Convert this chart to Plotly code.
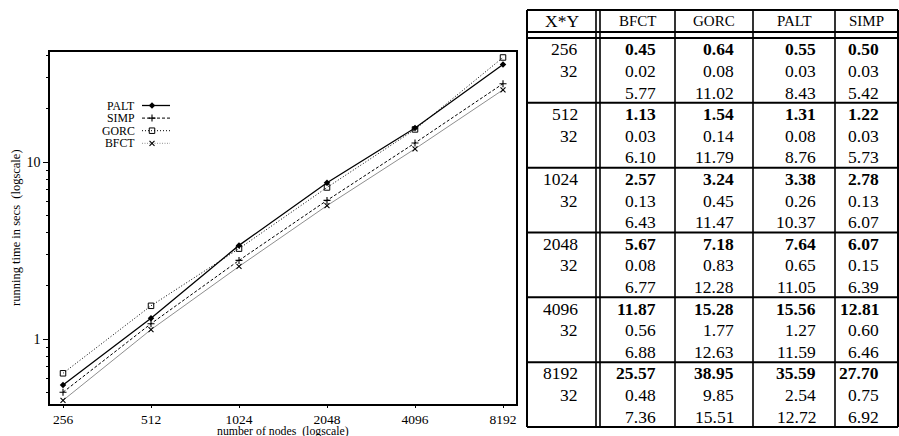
import math
import plotly.graph_objects as go

W, H = 899, 436

# ---------------- data ----------------
sizes = [256, 512, 1024, 2048, 4096, 8192]
procs = [32, 32, 32, 32, 32, 32]
algos = ["BFCT", "GORC", "PALT", "SIMP"]

bfct_mean = [0.45, 1.13, 2.57, 5.67, 11.87, 25.57]
bfct_sd = [0.02, 0.03, 0.13, 0.08, 0.56, 0.48]
bfct_third = [5.77, 6.10, 6.43, 6.77, 6.88, 7.36]

gorc_mean = [0.64, 1.54, 3.24, 7.18, 15.28, 38.95]
gorc_sd = [0.08, 0.14, 0.45, 0.83, 1.77, 9.85]
gorc_third = [11.02, 11.79, 11.47, 12.28, 12.63, 15.51]

palt_mean = [0.55, 1.31, 3.38, 7.64, 15.56, 35.59]
palt_sd = [0.03, 0.08, 0.26, 0.65, 1.27, 2.54]
palt_third = [8.43, 8.76, 10.37, 11.05, 11.59, 12.72]

simp_mean = [0.50, 1.22, 2.78, 6.07, 12.81, 27.70]
simp_sd = [0.03, 0.03, 0.13, 0.15, 0.60, 0.75]
simp_third = [5.42, 5.73, 6.07, 6.39, 6.46, 6.92]

y_major = [1, 10]
y_minor = [0.5, 0.6, 0.7, 0.8, 0.9, 2, 3, 4, 5, 6, 7, 8, 9, 20, 30, 40]

FONT = "Liberation Serif, Times New Roman, serif"


def px(x):
    return x / W


def py(y):
    return 1 - y / H


# ---------------- chart ----------------
L, R, T, B = 50, 516, 52, 404
styles = {
    "PALT": dict(line=dict(color="black", width=1.3),
                 marker=dict(symbol="diamond", size=5, color="black")),
    "SIMP": dict(line=dict(color="black", width=1, dash="3px,2px"),
                 marker=dict(symbol="cross-thin", size=5, color="black",
                             line=dict(color="black", width=1.1))),
    "GORC": dict(line=dict(color="black", width=1, dash="1px,2px"),
                 marker=dict(symbol="square-open", size=5.5, color="black",
                             line=dict(color="black", width=1))),
    "BFCT": dict(line=dict(color="#8f8f8f", width=1),
                 marker=dict(symbol="x-thin", size=5, color="black",
                             line=dict(color="black", width=1.1))),
}
series = {"PALT": palt_mean, "SIMP": simp_mean, "GORC": gorc_mean, "BFCT": bfct_mean}

fig = go.Figure()
for name in ["BFCT", "GORC", "SIMP", "PALT"]:
    fig.add_trace(go.Scatter(x=sizes, y=series[name], mode="lines+markers",
                             name=name, showlegend=False,
                             xaxis="x", yaxis="y", **styles[name]))

# custom legend (text left of sample) drawn on a pixel-space overlay axis
leg_names = ["PALT", "SIMP", "GORC", "BFCT"]
leg_line = {"BFCT": dict(color="#8f8f8f", width=1, dash="1px,1.5px")}
annotations = []
for i, name in enumerate(leg_names):
    yy = 105.5 + i * 12.6
    annotations.append(dict(x=px(137), y=py(yy), xref="paper", yref="paper",
                            text=name, showarrow=False, xanchor="right",
                            yanchor="middle",
                            font=dict(family=FONT, size=11.8, color="black")))
    fig.add_trace(go.Scatter(x=[142, 170], y=[yy, yy], mode="lines",
                             line=leg_line.get(name, styles[name]["line"]),
                             showlegend=False,
                             hoverinfo="skip", xaxis="x2", yaxis="y2"))
    fig.add_trace(go.Scatter(x=[152], y=[yy], mode="markers",
                             marker=styles[name]["marker"], showlegend=False,
                             hoverinfo="skip", xaxis="x2", yaxis="y2"))

lg2 = math.log10(2)
x_range = [math.log10(sizes[0]) - 13 / 88 * lg2, math.log10(sizes[-1]) + 13 / 88 * lg2]
y_range = [-(B - 339) / 177, 1 + (162 - T) / 177]

# axis titles
annotations.append(dict(x=px(283), y=py(430.5), xref="paper", yref="paper",
                        text="number of nodes  (logscale)", showarrow=False,
                        xanchor="center", yanchor="middle",
                        font=dict(family=FONT, size=11.8, color="black")))
annotations.append(dict(x=px(16), y=py(228), xref="paper", yref="paper",
                        text="running time in secs  (logscale)", showarrow=False,
                        textangle=-90, xanchor="center", yanchor="middle",
                        font=dict(family=FONT, size=12.5, color="black")))

# ---------------- table ----------------
shapes = []
TL, TR, TT, TB = 527, 898, 10, 427
HEAD_B, BODY_T = 32, 38
GROUP_H = (TB - BODY_T) / len(sizes)
ROW_H = GROUP_H / 3
col_lines = [596, 600, 675, 753, 835]
col_bounds = [(TL, 596), (600, 675), (675, 753), (753, 835), (835, TR)]


def hline(y, x0=TL, x1=TR, w=1.6):
    shapes.append(dict(type="line", xref="paper", yref="paper",
                       x0=px(x0), x1=px(x1), y0=py(y), y1=py(y),
                       line=dict(color="black", width=w)))


def vline(x, y0=TT, y1=TB, w=1.6):
    shapes.append(dict(type="line", xref="paper", yref="paper",
                       x0=px(x), x1=px(x), y0=py(y0), y1=py(y1),
                       line=dict(color="black", width=w)))


hline(TT, w=2)
hline(HEAD_B, w=2)
hline(BODY_T, w=2)
for g in range(1, len(sizes)):
    hline(BODY_T + g * GROUP_H, w=2)
hline(TB, w=2)
vline(TL, w=2)
vline(TR, w=2)
for x in col_lines:
    vline(x, w=1.6)


def cell(text, col, yc, bold=False, header=False, size=17.5):
    x0, x1 = col_bounds[col]
    if header:
        xx, anchor = (x0 + x1) / 2, "center"
    else:
        xx, anchor = x1 - 16 if col == 0 else x1 - 17, "right"
    t = f"<b>{text}</b>" if bold else text
    annotations.append(dict(x=px(xx), y=py(yc), xref="paper", yref="paper",
                            text=t, showarrow=False, xanchor=anchor,
                            yanchor="middle",
                            font=dict(family=FONT, size=size, color="black")))


hy = (TT + HEAD_B) / 2 + 0.5
cell("X*Y", 0, hy, header=True, size=17.5)
for j, a in enumerate(algos):
    cell(a, j + 1, hy, header=True, size=15)

cols = [(bfct_mean, bfct_sd, bfct_third), (gorc_mean, gorc_sd, gorc_third),
        (palt_mean, palt_sd, palt_third), (simp_mean, simp_sd, simp_third)]
for g, n in enumerate(sizes):
    top = BODY_T + g * GROUP_H
    r0 = top + ROW_H / 2 + 0.5
    cell(str(n), 0, r0)
    cell(str(procs[g]), 0, r0 + ROW_H)
    for j, (m, s, t) in enumerate(cols):
        cell(f"{m[g]:.2f}", j + 1, r0, bold=True)
        cell(f"{s[g]:.2f}", j + 1, r0 + ROW_H)
        cell(f"{t[g]:.2f}", j + 1, r0 + 2 * ROW_H)

fig.update_layout(
    width=W, height=H,
    margin=dict(l=0, r=0, t=0, b=0),
    paper_bgcolor="white", plot_bgcolor="rgba(0,0,0,0)",
    showlegend=False,
    font=dict(family=FONT, color="black"),
    xaxis=dict(type="log", domain=[px(L), px(R)], range=x_range,
               tickvals=sizes, ticktext=[str(s) for s in sizes],
               ticks="outside", ticklen=2.5, tickwidth=1, tickcolor="black",
               showline=True, linecolor="black", linewidth=1.5, mirror=True,
               showgrid=False, zeroline=False,
               tickfont=dict(family=FONT, size=13.5, color="black"),
               anchor="y"),
    yaxis=dict(type="log", domain=[py(B), py(T)], range=y_range,
               tickvals=y_major, ticktext=[str(v) for v in y_major],
               ticks="outside", ticklen=5, tickwidth=1, tickcolor="black",
               minor=dict(tickvals=y_minor, ticks="outside", ticklen=2.5,
                          tickwidth=1, tickcolor="black", showgrid=False),
               showline=True, linecolor="black", linewidth=1.5, mirror=True,
               showgrid=False, zeroline=False,
               tickfont=dict(family=FONT, size=14, color="black"),
               anchor="x"),
    xaxis2=dict(domain=[0, 1], range=[0, W], visible=False, anchor="y2",
                fixedrange=True),
    yaxis2=dict(domain=[0, 1], range=[H, 0], visible=False, anchor="x2",
                fixedrange=True),
    annotations=annotations,
    shapes=shapes,
)

fig.write_html("out.html",
               config={"displayModeBar": False},
               post_script="document.body.style.margin='0px';"
                           "document.body.style.overflow='hidden';")
